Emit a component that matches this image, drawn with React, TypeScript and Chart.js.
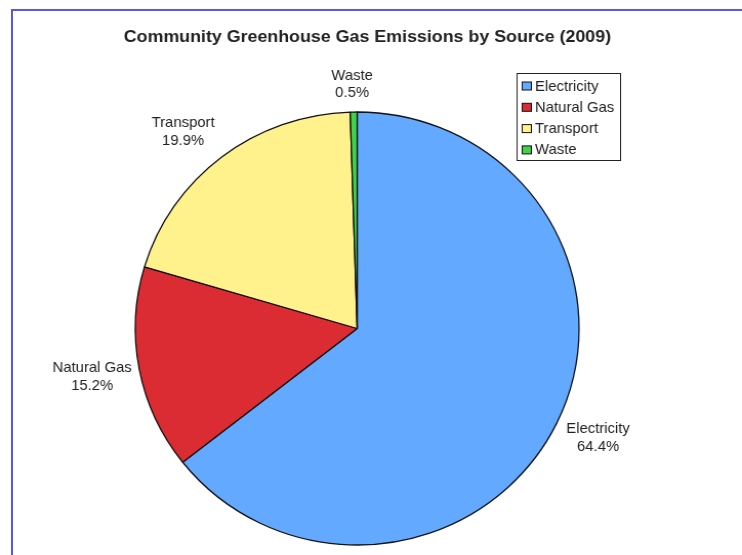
import React, { useEffect, useRef } from "react";
import { Chart, registerables } from "chart.js";

Chart.register(...registerables);

// Emission shares by source, in percent
const sources = ["Electricity", "Natural Gas", "Transport", "Waste"];
const shares = [64.4, 15.2, 19.9, 0.5];
const sliceColors = ["#63a9ff", "#dc2c33", "#fff18c", "#3fd34a"];
const chartTitle = "Community Greenhouse Gas Emissions by Source (2009)";

const FONT = '"Liberation Sans", Arial, sans-serif';
const CANVAS_W = 724;
const CANVAS_H = 555;
const STRETCH_X = 742 / CANVAS_W;

// Title drawn centred above the pie
const titlePlugin = {
  id: "chartTitle",
  afterDraw(chart: any) {
    const ctx = chart.ctx;
    ctx.save();
    ctx.font = `bold 17.4px ${FONT}`;
    ctx.fillStyle = "#222";
    ctx.textAlign = "center";
    ctx.textBaseline = "middle";
    ctx.fillText(chartTitle, 358.5, 37);
    ctx.restore();
  },
};

// Two-line "name / percent" labels outside each slice
const sliceLabelPlugin = {
  id: "sliceLabels",
  afterDatasetsDraw(chart: any) {
    const ctx = chart.ctx;
    const meta = chart.getDatasetMeta(0);
    // angular nudge (degrees) and distance (in radii) per label
    const shift = [-0.9, 0.2, -3.2, -0.25];
    const dist = [1.198, 1.215, 1.2, 1.127];
    const lineH = 17.5;
    ctx.save();
    ctx.font = `14.5px ${FONT}`;
    ctx.fillStyle = "#222";
    ctx.textAlign = "center";
    ctx.textBaseline = "middle";
    meta.data.forEach((arc: any, i: number) => {
      const p = arc.getProps(["x", "y", "startAngle", "endAngle", "outerRadius"], true);
      const a = (p.startAngle + p.endAngle) / 2 + (shift[i] * Math.PI) / 180;
      const d = p.outerRadius * dist[i];
      const cx = p.x + Math.cos(a) * d;
      const cy = p.y + Math.sin(a) * d;
      ctx.fillText(sources[i], cx, cy - lineH / 2);
      ctx.fillText(shares[i].toFixed(1) + "%", cx, cy + lineH / 2);
    });
    ctx.restore();
  },
};

// Boxed legend in the upper right
const boxLegendPlugin = {
  id: "boxLegend",
  afterDraw(chart: any) {
    const ctx = chart.ctx;
    const left = 504.5;
    const top = 73.5;
    const w = 101;
    const h = 87;
    const rowY0 = 86;
    const rowStep = 21.3;
    ctx.save();
    ctx.fillStyle = "#fff";
    ctx.fillRect(left, top, w, h);
    ctx.strokeStyle = "#222";
    ctx.lineWidth = 1;
    ctx.strokeRect(left, top, w, h);
    ctx.font = `14.5px ${FONT}`;
    ctx.textAlign = "left";
    ctx.textBaseline = "middle";
    sources.forEach((name, i) => {
      const y = rowY0 + i * rowStep;
      ctx.fillStyle = sliceColors[i];
      ctx.fillRect(509.5, y - 4, 9, 8);
      ctx.strokeStyle = "#111";
      ctx.strokeRect(509.5, y - 4, 9, 8);
      ctx.fillStyle = "#222";
      ctx.fillText(name, 522, y + 0.5);
    });
    ctx.restore();
  },
};

export default function App() {
  const canvasRef = useRef<HTMLCanvasElement | null>(null);

  useEffect(() => {
    if (!canvasRef.current) return;
    const chart = new Chart(canvasRef.current, {
      type: "pie",
      data: {
        labels: sources,
        datasets: [
          {
            data: shares,
            backgroundColor: sliceColors,
            borderColor: "#111",
            borderWidth: 1.3,
            radius: 216.5,
            hoverOffset: 0,
          },
        ],
      },
      options: {
        responsive: false,
        animation: false,
        devicePixelRatio: 1,
        layout: { padding: { left: 132, right: 159, top: 112, bottom: 10 } },
        plugins: {
          legend: { display: false },
          tooltip: { enabled: false },
          title: { display: false },
        },
      },
      plugins: [sliceLabelPlugin, boxLegendPlugin, titlePlugin],
    });
    return () => chart.destroy();
  }, []);

  return (
    <div
      style={{
        position: "fixed",
        left: 0,
        top: 0,
        width: 742,
        height: 555,
        background: "#fff",
        overflow: "hidden",
      }}
    >
      <div
        style={{
          position: "absolute",
          left: 11,
          top: 9,
          right: -10,
          bottom: -10,
          borderLeft: "2px solid #5757ee",
          borderTop: "2px solid #5757ee",
        }}
      />
      <div
        style={{
          position: "absolute",
          left: 0,
          top: 0,
          width: CANVAS_W,
          height: CANVAS_H,
          transform: `scaleX(${STRETCH_X})`,
          transformOrigin: "0 0",
        }}
      >
        <canvas ref={canvasRef} width={CANVAS_W} height={CANVAS_H} />
      </div>
    </div>
  );
}
